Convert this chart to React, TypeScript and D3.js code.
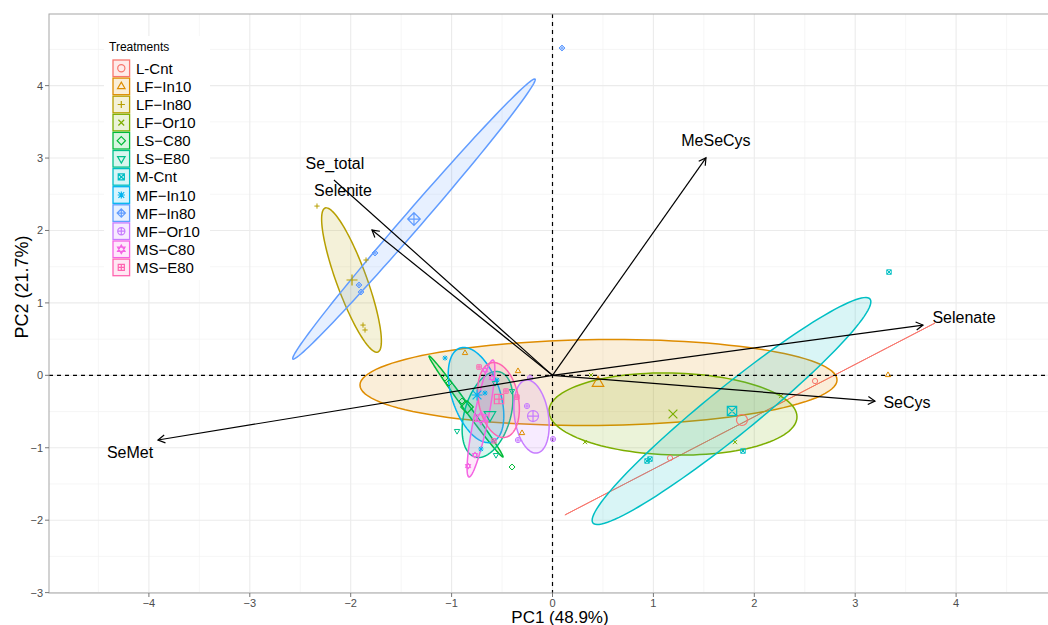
import { useEffect, useRef } from "react";
import * as d3 from "d3";

const treatments = ["L-Cnt", "LF−In10", "LF−In80", "LF−Or10", "LS−C80", "LS−E80", "M-Cnt", "MF−In10", "MF−In80", "MF−Or10", "MS−C80", "MS−E80"];
const palette = ["#F8766D", "#DE8C00", "#B79F00", "#7CAE00", "#00BA38", "#00C08B", "#00BFC4", "#00B4F0", "#619CFF", "#C77CFF", "#F564E3", "#FF64B0"];
const shapeCodes = [1, 2, 3, 4, 5, 6, 7, 8, 9, 10, 11, 12];

// individual samples per treatment (PC1, PC2)
const samples: [number, number][][] = [
  [[1.165, -1.142], [2.602, -0.079]],
  [[-0.867, 0.308], [-0.342, 0.059], [-0.302, -0.797], [3.325, 0.004]],
  [[-2.334, 2.337], [-1.848, 1.592], [-1.878, 0.694], [-1.858, 0.626]],
  [[0.382, 0.004], [0.322, -0.922], [1.809, -0.922], [2.265, -0.286]],
  [[-1.026, -0.106], [-0.897, -0.355], [-1.065, -0.037], [-0.401, -1.266]],
  [[-0.946, -0.769], [-0.401, -0.217], [-0.560, -1.101], [-0.570, -0.106]],
  [[0.937, -1.183], [0.966, -1.156], [1.888, -1.045], [3.335, 1.426]],
  [[-1.065, 0.239], [-0.669, -0.244], [-0.550, -0.065], [-0.709, -1.017]],
  [[-1.759, 1.689], [-1.918, 1.247], [-1.898, 1.150], [0.094, 4.519]],
  [[-0.253, -0.424], [-0.342, -0.894], [0.005, -0.880], [-0.223, -0.037]],
  [[-0.837, -1.253], [-0.768, -1.101], [-0.600, -0.037], [-0.669, 0.073]],
  [[-0.728, 0.115], [-0.461, -0.217], [-0.352, -0.300], [-0.580, -0.905]],
];

// group mean points (big markers)
const centroids: [number, number][] = [
  [1.878, -0.617], [0.451, -0.106], [-1.987, 1.316], [1.194, -0.534],
  [-0.847, -0.438], [-0.620, -0.548], [1.779, -0.493], [-0.748, -0.272],
  [-1.373, 2.158], [-0.193, -0.562], [-0.709, -0.590], [-0.530, -0.328],
];

// confidence ellipses: centre, end of one semi-axis, end of the other
const ellipseCentre: [number, number][] = [
  [1.957, -0.603], [0.456, -0.099], [-1.992, 1.316], [1.194, -0.534],
  [-0.857, -0.431], [-0.644, -0.541], [1.774, -0.493], [-0.758, -0.272],
  [-1.373, 2.158], [-0.208, -0.569], [-0.709, -0.596], [-0.535, -0.341],
];
const ellipseMajor: [number, number][] = [
  [3.791, 0.722], [2.820, -0.065], [-1.731, 0.322], [2.423, -0.569],
  [-0.491, -1.128], [-0.520, 0.046], [3.147, 1.053], [-0.917, 0.377],
  [-0.173, 4.091], [-0.263, -0.065], [-0.590, 0.211], [-0.603, 0.174],
];
const ellipseMinor: [number, number][] = [
  [1.957, -0.603], [0.461, 0.494], [-1.852, 1.388], [1.184, 0.032],
  [-0.833, -0.406], [-0.425, -0.631], [1.924, -0.751], [-0.533, -0.166],
  [-1.305, 2.077], [-0.042, -0.534], [-0.640, -0.616], [-0.340, -0.291],
];

const variables = ["SeMet", "Se_total", "Selenite", "MeSeCys", "Selenate", "SeCys"];
const loadings: [number, number][] = [
  [-3.910, -0.893], [-2.166, 2.696], [-1.789, 2.006], [1.521, 3.003], [3.672, 0.694], [3.196, -0.355],
];
const varLabelPos: [number, number][] = [
  [-4.187, -1.059], [-2.156, 2.931], [-2.076, 2.558], [1.620, 3.249], [4.078, 0.805], [3.513, -0.382],
];
const showHead = [true, false, true, true, true, true];

const xTicks = [-4, -3, -2, -1, 0, 1, 2, 3, 4];
const yTicks = [-3, -2, -1, 0, 1, 2, 3, 4];
const xMinor = [-4.5, -3.5, -2.5, -1.5, -0.5, 0.5, 1.5, 2.5, 3.5, 4.5];
const yMinor = [-2.5, -1.5, -0.5, 0.5, 1.5, 2.5, 3.5, 4.5];

const FONT = "'Liberation Sans', Arial, Helvetica, sans-serif";

function symbolPath(code: number, r: number): string {
  const circ = `M${-r},0A${r},${r} 0 1 0 ${r},0A${r},${r} 0 1 0 ${-r},0Z`;
  const R = r * 1.2;
  const triUp = `M0,${-R}L${R * 0.866},${R * 0.5}L${-R * 0.866},${R * 0.5}Z`;
  const triDown = `M0,${R}L${R * 0.866},${-R * 0.5}L${-R * 0.866},${-R * 0.5}Z`;
  const plus = `M${-r},0H${r}M0,${-r}V${r}`;
  const a = r * 0.8;
  const cross = `M${-a},${-a}L${a},${a}M${-a},${a}L${a},${-a}`;
  const D = r * 1.15;
  const diamond = `M0,${-D}L${D},0L0,${D}L${-D},0Z`;
  const diamondPlus = `M${-D},0H${D}M0,${-D}V${D}`;
  const s = r * 0.85;
  const square = `M${-s},${-s}H${s}V${s}H${-s}Z`;
  const sqCross = `M${-s},${-s}L${s},${s}M${-s},${s}L${s},${-s}`;
  const sqPlus = `M${-s},0H${s}M0,${-s}V${s}`;
  switch (code) {
    case 1: return circ;
    case 2: return triUp;
    case 3: return plus;
    case 4: return cross;
    case 5: return diamond;
    case 6: return triDown;
    case 7: return square + sqCross;
    case 8: return plus + cross;
    case 9: return diamond + diamondPlus;
    case 10: return circ + plus;
    case 11: return triUp + triDown;
    default: return square + sqPlus;
  }
}

export default function App() {
  const svgRef = useRef<SVGSVGElement | null>(null);

  useEffect(() => {
    const width = 1048;
    const height = 625;
    const svg = d3.select(svgRef.current).attr("width", width).attr("height", height);
    svg.selectAll("*").remove();

    const x = d3.scaleLinear().domain([-5, 5]).range([48, 1057]);
    const y = d3.scaleLinear().domain([-3, 5]).range([592.6, 13.2]);
    const left = 49, top = 14, bottom = 593, right = 1060;

    const clip = svg.append("defs").append("clipPath").attr("id", "panel");
    clip.append("rect").attr("x", left).attr("y", top).attr("width", right - left).attr("height", bottom - top);

    svg.append("rect").attr("x", left).attr("y", top).attr("width", right - left).attr("height", bottom - top).attr("fill", "#fff");

    const g = svg.append("g").attr("clip-path", "url(#panel)");

    // grid
    g.selectAll(".xminor").data(xMinor).join("line")
      .attr("x1", d => x(d)).attr("x2", d => x(d)).attr("y1", top).attr("y2", bottom)
      .attr("stroke", "#F2F2F2").attr("stroke-width", 0.7);
    g.selectAll(".yminor").data(yMinor).join("line")
      .attr("y1", d => y(d)).attr("y2", d => y(d)).attr("x1", left).attr("x2", right)
      .attr("stroke", "#F2F2F2").attr("stroke-width", 0.7);
    g.selectAll(".xmajor").data(xTicks).join("line")
      .attr("x1", d => x(d)).attr("x2", d => x(d)).attr("y1", top).attr("y2", bottom)
      .attr("stroke", "#EBEBEB").attr("stroke-width", 1.1);
    g.selectAll(".ymajor").data(yTicks).join("line")
      .attr("y1", d => y(d)).attr("y2", d => y(d)).attr("x1", left).attr("x2", right)
      .attr("stroke", "#EBEBEB").attr("stroke-width", 1.1);

    // ellipses
    const ts = d3.range(0, 361, 3).map(t => (t * Math.PI) / 180);
    const ellLine = d3.line<[number, number]>().x(d => x(d[0])).y(d => y(d[1]));
    treatments.forEach((_, i) => {
      const c = ellipseCentre[i], a = ellipseMajor[i], b = ellipseMinor[i];
      const pts: [number, number][] = ts.map(t => [
        c[0] + Math.cos(t) * (a[0] - c[0]) + Math.sin(t) * (b[0] - c[0]),
        c[1] + Math.cos(t) * (a[1] - c[1]) + Math.sin(t) * (b[1] - c[1]),
      ]);
      const flat = b[0] === c[0] && b[1] === c[1];
      g.append("path").attr("d", ellLine(pts) + "Z")
        .attr("fill", palette[i]).attr("fill-opacity", 0.15)
        .attr("stroke", palette[i]).attr("stroke-width", flat ? 1 : 1.5);
    });

    // reference lines
    g.append("line").attr("x1", left).attr("x2", right).attr("y1", y(0)).attr("y2", y(0))
      .attr("stroke", "#000").attr("stroke-width", 1.2).attr("stroke-dasharray", "4,4");
    g.append("line").attr("x1", x(0)).attr("x2", x(0)).attr("y1", top).attr("y2", bottom)
      .attr("stroke", "#000").attr("stroke-width", 1.2).attr("stroke-dasharray", "4,4");

    // samples and centroids
    treatments.forEach((_, i) => {
      samples[i].forEach(p => {
        g.append("path").attr("d", symbolPath(shapeCodes[i], 2.6))
          .attr("transform", `translate(${x(p[0])},${y(p[1])})`)
          .attr("fill", "none").attr("stroke", palette[i]).attr("stroke-width", 1);
      });
      const c = centroids[i];
      g.append("path").attr("d", symbolPath(shapeCodes[i], 5.5))
        .attr("transform", `translate(${x(c[0])},${y(c[1])})`)
        .attr("fill", "none").attr("stroke", palette[i]).attr("stroke-width", 1.2);
    });

    // variable arrows
    variables.forEach((name, i) => {
      const x1 = x(0), y1 = y(0), x2 = x(loadings[i][0]), y2 = y(loadings[i][1]);
      g.append("line").attr("x1", x1).attr("y1", y1).attr("x2", x2).attr("y2", y2)
        .attr("stroke", "#000").attr("stroke-width", 1.2);
      if (showHead[i]) {
        const ang = Math.atan2(y2 - y1, x2 - x1);
        const L = 8, spread = Math.PI / 6;
        const p1 = [x2 - L * Math.cos(ang - spread), y2 - L * Math.sin(ang - spread)];
        const p2 = [x2 - L * Math.cos(ang + spread), y2 - L * Math.sin(ang + spread)];
        g.append("path").attr("d", `M${p1[0]},${p1[1]}L${x2},${y2}L${p2[0]},${p2[1]}`)
          .attr("fill", "none").attr("stroke", "#000").attr("stroke-width", 1.2);
      }
      g.append("text").attr("x", x(varLabelPos[i][0])).attr("y", y(varLabelPos[i][1]))
        .attr("text-anchor", "middle").attr("dominant-baseline", "central")
        .attr("font-family", FONT).attr("font-size", 16).attr("fill", "#000").text(name);
    });

    // panel border
    svg.append("rect").attr("x", left).attr("y", top).attr("width", right - left).attr("height", bottom - top)
      .attr("fill", "none").attr("stroke", "#A6A6A6").attr("stroke-width", 1);

    // axes
    yTicks.forEach(t => {
      svg.append("line").attr("x1", left - 4).attr("x2", left).attr("y1", y(t)).attr("y2", y(t))
        .attr("stroke", "#777").attr("stroke-width", 1);
      svg.append("text").attr("x", left - 6).attr("y", y(t)).attr("text-anchor", "end")
        .attr("dominant-baseline", "central").attr("font-family", FONT).attr("font-size", 11)
        .attr("fill", "#4D4D4D").text(String(t).replace("-", "−"));
    });
    xTicks.forEach(t => {
      svg.append("line").attr("x1", x(t)).attr("x2", x(t)).attr("y1", bottom).attr("y2", bottom + 4)
        .attr("stroke", "#777").attr("stroke-width", 1);
      svg.append("text").attr("x", x(t)).attr("y", bottom + 10).attr("text-anchor", "middle")
        .attr("dominant-baseline", "central").attr("font-family", FONT).attr("font-size", 11)
        .attr("fill", "#4D4D4D").text(String(t).replace("-", "−"));
    });

    svg.append("text").attr("x", 560).attr("y", 617).attr("text-anchor", "middle")
      .attr("dominant-baseline", "central").attr("font-family", FONT).attr("font-size", 17)
      .attr("fill", "#000").text("PC1 (48.9%)");
    svg.append("text").attr("transform", "translate(22,287) rotate(-90)").attr("text-anchor", "middle")
      .attr("dominant-baseline", "central").attr("font-family", FONT).attr("font-size", 18)
      .attr("fill", "#000").text("PC2 (21.7%)");

    // legend
    const lg = svg.append("g");
    lg.append("rect").attr("x", 104).attr("y", 36).attr("width", 106).attr("height", 244).attr("fill", "#fff");
    lg.append("text").attr("x", 109).attr("y", 47).attr("dominant-baseline", "central")
      .attr("font-family", FONT).attr("font-size", 12).attr("fill", "#000").text("Treatments");
    treatments.forEach((name, i) => {
      const cy = 68.3 + 18.1 * i;
      lg.append("rect").attr("x", 113).attr("y", cy - 8.3).attr("width", 16.6).attr("height", 16.6)
        .attr("fill", palette[i]).attr("fill-opacity", 0.15)
        .attr("stroke", palette[i]).attr("stroke-width", 1.3);
      lg.append("path").attr("d", symbolPath(shapeCodes[i], 3.6))
        .attr("transform", `translate(${121.3},${cy})`)
        .attr("fill", "none").attr("stroke", palette[i]).attr("stroke-width", 1.2);
      lg.append("text").attr("x", 136).attr("y", cy).attr("dominant-baseline", "central")
        .attr("font-family", FONT).attr("font-size", 15).attr("fill", "#000").text(name);
    });
  }, []);

  return (
    <div style={{ position: "absolute", left: 0, top: 0, width: 1048, height: 625, background: "#fff" }}>
      <svg ref={svgRef}></svg>
    </div>
  );
}
